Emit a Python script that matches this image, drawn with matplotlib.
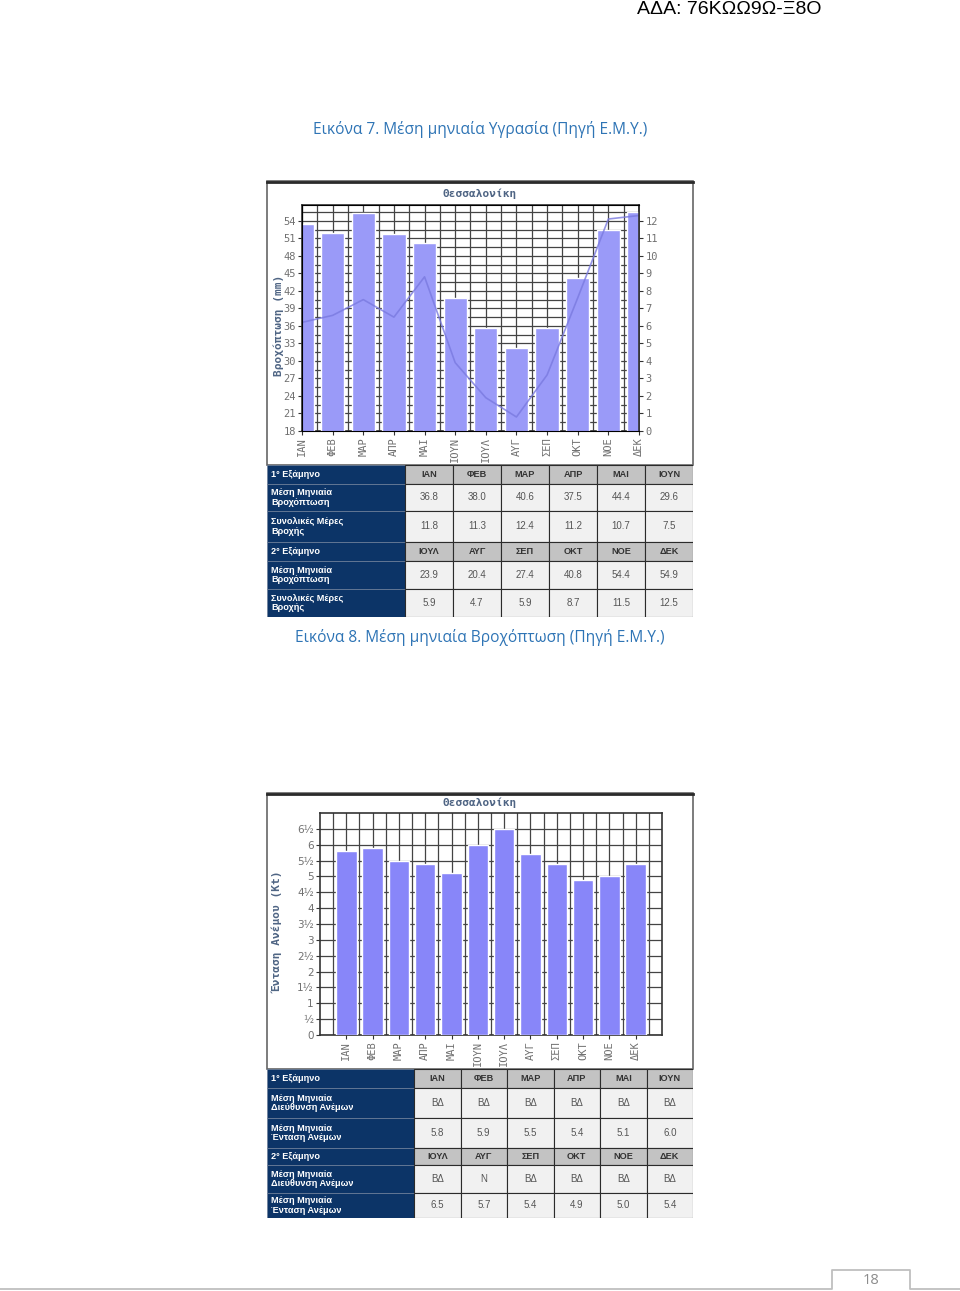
import numpy as np
import matplotlib
matplotlib.use("Agg")
import matplotlib.pyplot as plt
from matplotlib.patches import Rectangle

W, H = 960, 1291

months = ['ΙΑΝ', 'ΦΕΒ', 'ΜΑΡ', 'ΑΠΡ', 'ΜΑΙ', 'ΙΟΥΝ', 'ΙΟΥΛ', 'ΑΥΓ', 'ΣΕΠ', 'ΟΚΤ', 'ΝΟΕ', 'ΔΕΚ']

# chart 1
rain_bars = [53.4, 51.9, 55.3, 51.7, 50.2, 40.7, 35.7, 32.2, 35.7, 44.2, 52.5, 55.5]
rain_line = [6.2, 6.6, 7.5, 6.5, 8.8, 3.9, 1.9, 0.8, 3.2, 7.6, 12.1, 12.3]

# table 1
rain_mm = [36.8, 38.0, 40.6, 37.5, 44.4, 29.6, 23.9, 20.4, 27.4, 40.8, 54.4, 54.9]
rain_days = [11.8, 11.3, 12.4, 11.2, 10.7, 7.5, 5.9, 4.7, 5.9, 8.7, 11.5, 12.5]

# chart 2 + table 2
wind_kt = [5.8, 5.9, 5.5, 5.4, 5.1, 6.0, 6.5, 5.7, 5.4, 4.9, 5.0, 5.4]
wind_dir = ['ΒΔ', 'ΒΔ', 'ΒΔ', 'ΒΔ', 'ΒΔ', 'ΒΔ', 'ΒΔ', 'Ν', 'ΒΔ', 'ΒΔ', 'ΒΔ', 'ΒΔ']

NAVY = '#0c3467'
SLATE = '#4f6584'
TICK = '#707070'
GRID = '#444444'
MONO = 'DejaVu Sans Mono'


def box(x0, y0, x1, y1):
    return [x0 / W, 1 - y1 / H, (x1 - x0) / W, (y1 - y0) / H]


fig = plt.figure(figsize=(9.6, 12.91), dpi=100)

page = fig.add_axes([0, 0, 1, 1])
page.set_xlim(0, W)
page.set_ylim(H, 0)
page.axis('off')

page.text(637, 9, 'ΑΔΑ: 76ΚΩΩ9Ω-Ξ8Ο', family='Liberation Sans', fontsize=14,
          va='center', ha='left', color='black')
page.text(480, 130, 'Εικόνα 7. Μέση μηνιαία Υγρασία (Πηγή Ε.Μ.Υ.)',
          family=['Open Sans', 'DejaVu Sans'], fontsize=11.2, color='#2e74b5',
          ha='center', va='center')
page.text(480, 638, 'Εικόνα 8. Μέση μηνιαία Βροχόπτωση (Πηγή Ε.Μ.Υ.)',
          family=['Open Sans', 'DejaVu Sans'], fontsize=11.2, color='#2e74b5',
          ha='center', va='center')

# chart frames
for top, bot in [(181, 465), (793, 1069)]:
    page.add_patch(Rectangle((267, top), 426, bot - top, fill=False, ec='#666666', lw=1.2))
    page.plot([267, 693], [top + 1, top + 1], color='#2a2a2a', lw=2)

# footer
page.plot([0, 832, 832, 910, 910, 960], [1289, 1289, 1270, 1270, 1289, 1289],
          color='#bfbfbf', lw=1.3)
page.text(871, 1281, '18', family=['Open Sans', 'DejaVu Sans'], fontsize=10.5,
          color='#8c8c8c', ha='center', va='center')

x = np.arange(12)

# ---- chart 1: rainfall
page.text(480, 194, 'Θεσσαλονίκη', family=MONO, fontweight='bold', fontsize=8,
          color=SLATE, ha='center', va='center')
page.text(279, 325, 'Βροχόπτωση (mm)', family=MONO, fontweight='bold', fontsize=8,
          color=SLATE, ha='center', va='center', rotation=90)

ax = fig.add_axes(box(302, 205, 639, 431))
ax.bar(x, rain_bars, width=0.76, color='#9a9af8', edgecolor='white', linewidth=1, zorder=3)
ax.set_xlim(0, 11)
ax.set_ylim(18, 56.7)
ax.set_yticks(np.arange(18, 55, 3))
ax.set_yticklabels([str(v) for v in range(18, 55, 3)], family=MONO)
ax.set_yticks(np.arange(19.5, 56.7, 3), minor=True)
ax.set_xticks(x)
ax.set_xticklabels(months, rotation=90, family=MONO, va='top')
ax.set_xticks(np.arange(0.5, 11, 1), minor=True)
ax.grid(which='both', color=GRID, lw=0.9)
ax.set_axisbelow(True)
ax.tick_params(which='minor', length=0)
ax.tick_params(which='major', length=3, color='#333333', labelcolor=TICK, labelsize=7.5, pad=1.5)
for s in ax.spines.values():
    s.set_color('#333333')
    s.set_linewidth(1.2)

ax2 = ax.twinx()
ax2.plot(x, rain_line, color='#7a7ae0', lw=1.2, alpha=0.8)
ax2.set_ylim(0, 12.9)
ax2.set_yticks(range(13))
ax2.set_yticklabels([str(v) for v in range(13)], family=MONO)
ax2.tick_params(length=3, color='#333333', labelcolor=TICK, labelsize=7.5, pad=1.5)
ax2.spines['right'].set_color('#333333')
ax2.spines['right'].set_linewidth(1.2)

# ---- chart 2: wind
page.text(480, 803, 'Θεσσαλονίκη', family=MONO, fontweight='bold', fontsize=8,
          color=SLATE, ha='center', va='center')
page.text(279, 932, 'Ένταση Ανέμου (Kt)', family=MONO, fontweight='bold', fontsize=8,
          color=SLATE, ha='center', va='center', rotation=90)

ax3 = fig.add_axes(box(320, 813, 662, 1035))
ax3.bar(x, wind_kt, width=0.78, color='#8886f9', edgecolor='white', linewidth=1, zorder=3)
ax3.set_xlim(-1, 12)
ax3.set_ylim(0, 7)
yt = np.arange(0, 7, 0.5)
ylab = []
for v in yt:
    whole = int(v)
    half = '½' if v - whole else ''
    if whole == 0:
        ylab.append(half if half else '0')
    else:
        ylab.append(f'{whole}{half}')
ax3.set_yticks(yt)
ax3.set_yticklabels(ylab, family='DejaVu Sans')
ax3.set_xticks(x)
ax3.set_xticklabels(months, rotation=90, family=MONO, va='top')
ax3.set_xticks(np.arange(-0.5, 12, 1), minor=True)
ax3.grid(which='major', axis='y', color=GRID, lw=0.9)
ax3.grid(which='both', axis='x', color=GRID, lw=0.9)
ax3.set_axisbelow(True)
ax3.tick_params(which='minor', length=0)
ax3.tick_params(which='major', length=3, color='#333333', labelcolor=TICK, labelsize=7.5, pad=1.5)
for s in ax3.spines.values():
    s.set_color('#333333')
    s.set_linewidth(1.2)


def draw_table(top, heights, label_w, rows):
    bottom = top + sum(heights)
    t = fig.add_axes(box(267, top, 693, bottom))
    t.set_xlim(0, 426)
    t.set_ylim(bottom - top, 0)
    t.axis('off')
    col_w = (426 - label_w) / 6
    y = 0
    for h, (label, cells, head) in zip(heights, rows):
        t.add_patch(Rectangle((0, y), label_w, h, fc=NAVY, ec='#6d7f99', lw=0.5))
        t.text(4, y + h / 2, label, color='white', fontweight='bold', fontsize=6.6,
               va='center', ha='left', family='Liberation Sans', linespacing=1.05)
        for i, c in enumerate(cells):
            x0 = label_w + i * col_w
            t.add_patch(Rectangle((x0, y), col_w, h, fc='#c3c3c3' if head else '#f1f1f1',
                                  ec='#2b2b2b', lw=0.8))
            t.text(x0 + col_w / 2, y + h / 2, c, ha='center', va='center',
                   fontsize=6.6 if head else 7,
                   family='Liberation Sans', color='#333333' if head else '#555555',
                   fontweight='bold' if head else 'normal')
        y += h


fmt = lambda vals: [f'{v:.1f}' for v in vals]

draw_table(465, [19, 27, 31, 19, 28, 28], 138, [
    ('1° Εξάμηνο', months[:6], True),
    ('Μέση Μηνιαία\nΒροχόπτωση', fmt(rain_mm[:6]), False),
    ('Συνολικές Μέρες\nΒροχής', fmt(rain_days[:6]), False),
    ('2° Εξάμηνο', months[6:], True),
    ('Μέση Μηνιαία\nΒροχόπτωση', fmt(rain_mm[6:]), False),
    ('Συνολικές Μέρες\nΒροχής', fmt(rain_days[6:]), False),
])

draw_table(1069, [19, 30, 30, 17, 28, 25], 147, [
    ('1° Εξάμηνο', months[:6], True),
    ('Μέση Μηνιαία\nΔιεύθυνση Ανέμων', wind_dir[:6], False),
    ('Μέση Μηνιαία\nΈνταση Ανέμων', fmt(wind_kt[:6]), False),
    ('2° Εξάμηνο', months[6:], True),
    ('Μέση Μηνιαία\nΔιεύθυνση Ανέμων', wind_dir[6:], False),
    ('Μέση Μηνιαία\nΈνταση Ανέμων', fmt(wind_kt[6:]), False),
])

fig.savefig('out.png', dpi=100)
